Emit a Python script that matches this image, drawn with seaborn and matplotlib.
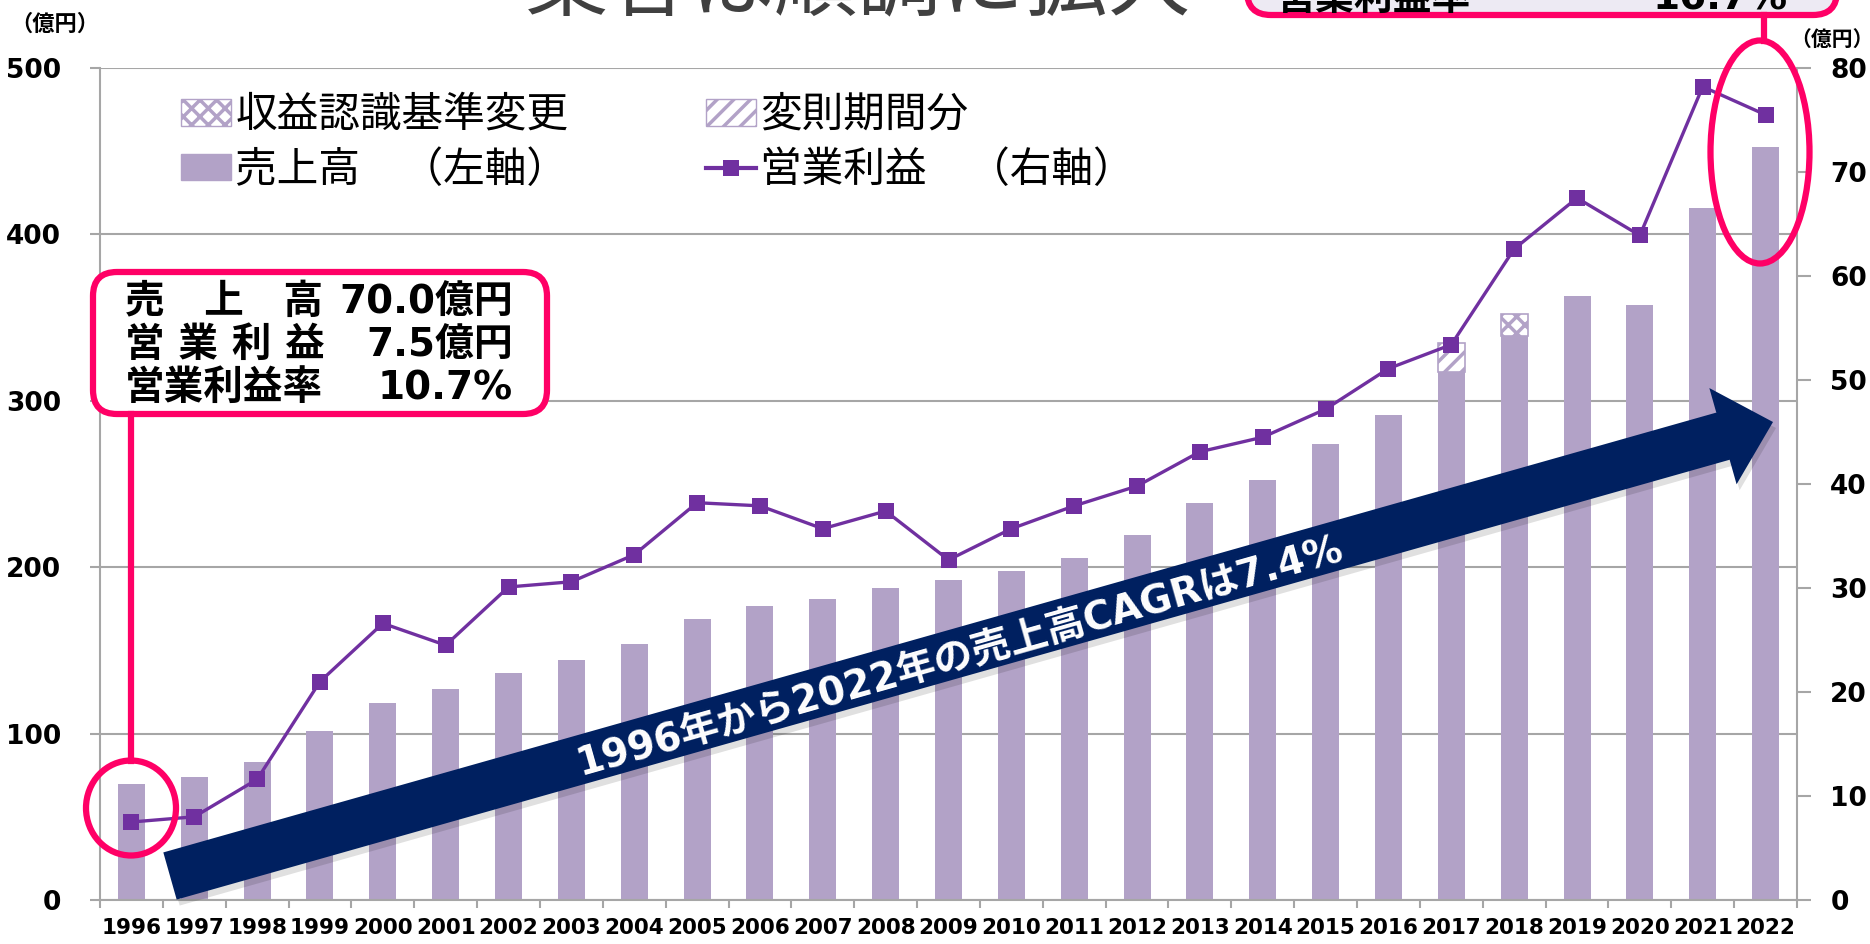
import numpy as np
import pandas as pd
import matplotlib
matplotlib.use("Agg")
import matplotlib.pyplot as plt
import seaborn as sns
from matplotlib.patches import FancyArrow, FancyBboxPatch, Ellipse, Patch
from matplotlib.lines import Line2D
from matplotlib.transforms import IdentityTransform

# データ (億円)
years = [str(y) for y in range(1996, 2023)]
sales = [70.0, 74.1, 82.7, 101.8, 118.2, 126.6, 136.6, 144.4, 153.6, 168.9,
         176.7, 180.9, 187.3, 192.3, 197.7, 205.7, 219.2, 238.6, 252.4, 274.0,
         291.5, 317.5, 339.1, 363.0, 357.6, 416.0, 452.6]
op_profit = [7.5, 8.0, 11.6, 21.0, 26.6, 24.5, 30.1, 30.6, 33.2, 38.2,
             37.9, 35.7, 37.4, 32.7, 35.7, 37.9, 39.8, 43.1, 44.5, 47.2,
             51.1, 53.4, 62.6, 67.5, 63.9, 78.2, 75.5]
irregular_year, irregular_val = "2017", 17.0      # 変則期間分
revrec_year, revrec_val = "2018", 13.1            # 収益認識基準変更

legend_labels = ["収益認識基準変更", "売上高　（左軸）", "変則期間分", "営業利益　（右軸）"]
title = "業容は順調に拡大"
box_rows = [("売　上　高", "70.0億円"), ("営 業 利 益", "7.5億円"), ("営業利益率", "10.7%")]
top_box = ("営業利益率", "16.7%")
arrow_text = "1996年から2022年の売上高CAGRは7.4%"

BAR = "#B2A2C7"
LINE = "#7030A0"
NAVY = "#002060"
PINK = "#FF0066"
GRID = "#A6A6A6"

plt.rcParams["font.family"] = ["DejaVu Sans", "Noto Sans CJK JP"]
plt.rcParams["hatch.linewidth"] = 2.5

W, H = 1870, 944
fig = plt.figure(figsize=(W / 100, H / 100), dpi=100)
ax = fig.add_axes([100 / W, 1 - 900 / H, 1697 / W, 832 / H])
px = IdentityTransform()


def fy(y):
    return H - y


df = pd.DataFrame({"year": years, "sales": sales, "op": op_profit})
sns.barplot(data=df, x="year", y="sales", color=BAR, saturation=1, width=0.43,
            linewidth=0, ax=ax, zorder=2)

i17 = years.index(irregular_year)
ax.bar(i17, irregular_val, bottom=sales[i17], width=0.43, facecolor="white",
       edgecolor=BAR, hatch="//", linewidth=1.2, zorder=2)
i18 = years.index(revrec_year)
ax.bar(i18, revrec_val, bottom=sales[i18], width=0.43, facecolor="white",
       edgecolor=BAR, hatch="xx", linewidth=1.2, zorder=2)

ax.set_xlim(-0.5, len(years) - 0.5)
ax.set_ylim(0, 500)
ax.set_yticks(range(0, 501, 100))
ax.set_xlabel("")
ax.set_ylabel("")
ax.yaxis.grid(True, color=GRID, lw=1.5)
ax.set_axisbelow(True)
for s in ["top", "right"]:
    ax.spines[s].set_visible(False)
for s in ["left", "bottom"]:
    ax.spines[s].set_color(GRID)
    ax.spines[s].set_linewidth(1.5)
ax.tick_params(axis="y", direction="out", length=7, width=1.5, color=GRID,
               labelsize=19, pad=21)
ax.tick_params(axis="x", which="major", length=0, labelsize=15.5, pad=13)
ax.set_xticks(np.arange(len(years) + 1) - 0.5, minor=True)
ax.tick_params(axis="x", which="minor", length=6, width=1.5, color=GRID)
for lab in ax.get_xticklabels() + ax.get_yticklabels():
    lab.set_fontweight("bold")

ax2 = ax.twinx()
sns.lineplot(x=np.arange(len(years)), y=op_profit, ax=ax2, color=LINE,
             marker="s", markersize=12, markeredgewidth=0, linewidth=2.4)
ax2.set_ylim(0, 80)
ax2.set_yticks(range(0, 81, 10))
ax2.set_ylabel("")
for s in ["top", "left", "bottom"]:
    ax2.spines[s].set_visible(False)
ax2.spines["right"].set_color(GRID)
ax2.spines["right"].set_linewidth(1.5)
ax2.tick_params(axis="y", direction="out", length=10, width=1.5, color=GRID,
                labelsize=19, pad=14)
for lab in ax2.get_yticklabels():
    lab.set_fontweight("bold")

# 凡例
handles = [
    Patch(facecolor="white", edgecolor=BAR, hatch="xx"),
    Patch(facecolor=BAR, edgecolor=BAR),
    Patch(facecolor="white", edgecolor=BAR, hatch="//"),
    Line2D([], [], color=LINE, marker="s", markersize=12, lw=3, markeredgewidth=0),
]
ax2.legend(handles, legend_labels, ncol=2, loc="upper left",
           bbox_to_anchor=((181 - 100) / 1697, (900 - 94) / 832),
           frameon=False, fontsize=30, borderpad=0, borderaxespad=0,
           handlelength=1.2, handleheight=0.6, handletextpad=0.1,
           columnspacing=3.3, labelspacing=0.3)

# 単位
fig.text(10, fy(24), "（億円）", transform=px, fontsize=16, fontweight="bold", va="center")
fig.text(1790, fy(40), "（億円）", transform=px, fontsize=15, fontweight="bold", va="center")

# タイトル (上端で切れている)
fig.text(525, fy(8), title, transform=px, fontsize=60, color="#404040", va="baseline")

# 矢印
tail = np.array([170.0, fy(876)])
tip = np.array([1773.0, fy(422)])
d = tip - tail
shadow = FancyArrow(tail[0] + 3, tail[1] - 6, d[0], d[1], width=49, head_width=100,
                    head_length=52, length_includes_head=True, transform=px,
                    color="black", alpha=0.12, lw=0)
fig.add_artist(shadow)
arrow = FancyArrow(tail[0], tail[1], d[0], d[1], width=49, head_width=100,
                   head_length=52, length_includes_head=True, transform=px,
                   color=NAVY, lw=0)
fig.add_artist(arrow)
ang = np.degrees(np.arctan2(d[1], d[0]))
cx = 960
cy = tail[1] + d[1] / d[0] * (cx - tail[0]) - 4
fig.text(cx, cy, arrow_text, transform=px, rotation=ang, rotation_mode="anchor",
         ha="center", va="center", fontsize=28, fontweight="bold", color="white")

# 左の吹き出し
fig.add_artist(FancyBboxPatch((93, fy(414)), 454, 142,
                              boxstyle="round,pad=0,rounding_size=24", transform=px,
                              fc="white", ec=PINK, lw=4.5))
for k, (lab, val) in enumerate(box_rows):
    yy = fy(302 + 43 * k)
    fig.text(125, yy, lab, transform=px, fontsize=28.5, fontweight="bold", va="center")
    fig.text(513, yy, val, transform=px, fontsize=28, fontweight="bold",
             va="center", ha="right")
fig.add_artist(Line2D([131, 131], [fy(414), fy(761)], transform=px, color=PINK, lw=4.5))
fig.add_artist(Ellipse((131, fy(808)), 90, 95, transform=px, fc="none", ec=PINK, lw=4.5))

# 右上の吹き出し (上端で切れている)
fig.add_artist(FancyBboxPatch((1247, fy(15)), 590, 80,
                              boxstyle="round,pad=0,rounding_size=24", transform=px,
                              fc="#EDEAF3", ec=PINK, lw=4.5))
fig.text(1277, fy(10), top_box[0], transform=px, fontsize=28, fontweight="bold", va="baseline")
fig.text(1788, fy(10), top_box[1], transform=px, fontsize=28, fontweight="bold",
         va="baseline", ha="right")
fig.add_artist(Line2D([1764, 1764], [fy(15), fy(41)], transform=px, color=PINK, lw=4.5))
fig.add_artist(Ellipse((1760, fy(152)), 99, 223, transform=px, fc="none", ec=PINK, lw=4.5))

fig.savefig("out.png", dpi=100)
